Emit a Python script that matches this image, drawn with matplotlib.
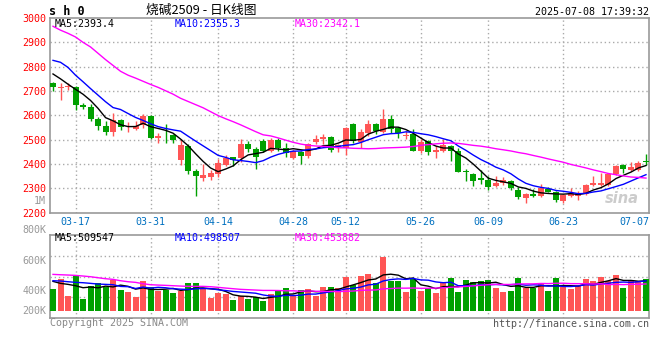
import matplotlib
matplotlib.use('Agg')
import matplotlib.pyplot as plt
from matplotlib.transforms import blended_transform_factory
import pandas as pd

# trading days shown (2025)
dates = ['03-12', '03-13', '03-14', '03-17', '03-18', '03-19', '03-20', '03-21', '03-24', '03-25',
         '03-26', '03-27', '03-28', '03-31', '04-01', '04-02', '04-03', '04-07', '04-08', '04-09',
         '04-10', '04-11', '04-14', '04-15', '04-16', '04-17', '04-18', '04-21', '04-22', '04-23',
         '04-24', '04-25', '04-28', '04-29', '04-30', '05-06', '05-07', '05-08', '05-09', '05-12',
         '05-13', '05-14', '05-15', '05-16', '05-19', '05-20', '05-21', '05-22', '05-23', '05-26',
         '05-27', '05-28', '05-29', '05-30', '06-03', '06-04', '06-05', '06-06', '06-09', '06-10',
         '06-11', '06-12', '06-13', '06-16', '06-17', '06-18', '06-19', '06-20', '06-23', '06-24',
         '06-25', '06-26', '06-27', '06-30', '07-01', '07-02', '07-03', '07-04', '07-07', '07-08']

opens = [2733, 2714, 2716, 2715, 2641, 2634, 2587, 2558, 2531, 2579,
         2548, 2543, 2560, 2597, 2506, 2513, 2519, 2417, 2474, 2370,
         2343, 2347, 2358, 2395, 2427, 2424, 2481, 2463, 2494, 2453,
         2498, 2467, 2424, 2449, 2433, 2490, 2501, 2511, 2468, 2467,
         2566, 2490, 2526, 2566, 2531, 2583, 2549, 2515, 2522, 2455,
         2494, 2450, 2454, 2474, 2454, 2372, 2358, 2342, 2334, 2311,
         2322, 2331, 2293, 2259, 2277, 2270, 2297, 2283, 2249, 2270,
         2267, 2277, 2314, 2314, 2313, 2358, 2395, 2377, 2376, 2413]
highs = [2735, 2734, 2732, 2719, 2651, 2645, 2594, 2578, 2610, 2586,
         2572, 2576, 2607, 2600, 2528, 2566, 2522, 2501, 2481, 2381,
         2399, 2376, 2420, 2436, 2428, 2501, 2494, 2468, 2501, 2508,
         2506, 2487, 2458, 2453, 2485, 2518, 2522, 2515, 2481, 2551,
         2569, 2542, 2580, 2569, 2628, 2603, 2553, 2535, 2542, 2501,
         2498, 2474, 2501, 2478, 2467, 2379, 2362, 2376, 2351, 2349,
         2345, 2336, 2304, 2280, 2297, 2317, 2304, 2290, 2277, 2300,
         2290, 2318, 2352, 2362, 2362, 2395, 2399, 2409, 2413, 2440]
lows = [2698, 2662, 2703, 2624, 2627, 2575, 2539, 2518, 2515, 2539,
        2531, 2540, 2547, 2504, 2485, 2485, 2488, 2395, 2358, 2267,
        2331, 2335, 2345, 2390, 2392, 2409, 2449, 2379, 2449, 2449,
        2453, 2430, 2420, 2399, 2426, 2481, 2482, 2449, 2450, 2436,
        2488, 2467, 2515, 2522, 2528, 2528, 2505, 2501, 2452, 2444,
        2436, 2424, 2449, 2413, 2366, 2331, 2311, 2317, 2294, 2304,
        2313, 2293, 2256, 2239, 2263, 2263, 2283, 2245, 2239, 2263,
        2253, 2273, 2311, 2310, 2311, 2354, 2362, 2372, 2372, 2395]
closes = [2715, 2718, 2722, 2644, 2635, 2587, 2556, 2531, 2579, 2553,
          2550, 2557, 2599, 2508, 2517, 2511, 2498, 2478, 2372, 2352,
          2354, 2362, 2403, 2426, 2417, 2481, 2460, 2430, 2453, 2498,
          2467, 2444, 2453, 2431, 2481, 2501, 2512, 2458, 2477, 2546,
          2494, 2531, 2566, 2535, 2585, 2542, 2529, 2518, 2455, 2490,
          2449, 2457, 2478, 2454, 2368, 2366, 2331, 2336, 2307, 2324,
          2335, 2300, 2263, 2277, 2268, 2300, 2287, 2253, 2273, 2279,
          2281, 2313, 2321, 2320, 2358, 2390, 2380, 2386, 2406, 2407]
# volume in thousands
volumes = [369, 540, 256, 596, 199, 426, 471, 403, 528, 352,
           324, 233, 506, 403, 341, 352, 301, 335, 471, 471,
           364, 222, 301, 284, 182, 256, 199, 233, 170, 284,
           329, 386, 256, 352, 369, 256, 403, 403, 386, 574,
           437, 596, 625, 471, 920, 500, 511, 318, 540, 335,
           386, 301, 488, 557, 318, 523, 488, 506, 523, 386,
           318, 341, 557, 386, 386, 454, 341, 557, 409, 369,
           426, 540, 506, 574, 506, 608, 386, 506, 506, 540]

# moving averages before enough days are in view
ma5_head = [2770, 2750, 2728, 2707]
ma10_head = [2826, 2818, 2797, 2765, 2738, 2710, 2683, 2656, 2632]
ma30_head = [2966, 2950, 2937, 2922, 2900, 2881, 2855, 2829, 2805, 2781,
             2765, 2753, 2740, 2727, 2715, 2701, 2687, 2670, 2657, 2644,
             2631, 2615, 2599, 2586, 2574, 2561, 2547, 2533, 2520]
vol_ma5_head = [500, 466, 449, 426]
vol_ma10_head = [511, 506, 494, 483, 477, 466, 454, 449, 443]
vol_ma30_head = [619, 613, 608, 602, 591, 579, 562, 545, 534, 511,
                 494, 483, 460, 443, 437, 432, 426, 420, 415, 415,
                 415, 409, 398, 386, 375, 364, 358, 352, 346]

tick_dates = ['03-17', '03-31', '04-14', '04-28', '05-12', '05-26', '06-09', '06-23', '07-07']
price_ticks = [2200, 2300, 2400, 2500, 2600, 2700, 2800, 2900, 3000]
ma_labels = ['MA5:2393.4', 'MA10:2355.3', 'MA30:2342.1']
vol_ma_labels = ['MA5:509547', 'MA10:498507', 'MA30:453882']
vol_axis_labels = ['800K', '600K', '400K', '200K']

UP = '#FF5555'
DOWN = '#00A000'
GRID = '#AAAAAA'
MONO = 'DejaVu Sans Mono'
FS = 7.2


def moving_avg(values, n, head):
    s = pd.Series(values, dtype=float).rolling(n).mean()
    s.iloc[:len(head)] = head
    return s.values


x = list(range(len(dates)))
colors = [UP if c >= o else DOWN for o, c in zip(opens, closes)]
ma_colors = ['black', '#0000FF', '#FF00FF']

fig = plt.figure(figsize=(6.6, 3.6), dpi=100)
W, H = 660.0, 360.0
ax = fig.add_axes([50 / W, (H - 212.7) / H, 599 / W, 194.7 / H])
ax2 = fig.add_axes([50 / W, 42 / H, 599 / W, 83 / H])

xlo, xhi = -0.4, 79.4

# ---- price panel ----
ax.vlines(x, lows, highs, colors=colors, linewidth=1, zorder=3)
bottoms = [min(o, c) for o, c in zip(opens, closes)]
heights = [max(abs(c - o), 2) for o, c in zip(opens, closes)]
ax.bar(x, heights, bottom=bottoms, width=0.8, color=colors, linewidth=0, zorder=4)

for n, head, col in zip([5, 10, 30], [ma5_head, ma10_head, ma30_head], ma_colors):
    ax.plot(x, moving_avg(closes, n, head), color=col, linewidth=1, zorder=5)

ax.set_xlim(xlo, xhi)
ax.set_ylim(2200, 3000)
ax.set_yticks(price_ticks)
ax.set_yticklabels([str(p) for p in price_ticks], color='#FF0000', fontfamily=MONO, fontsize=FS)
ax.set_xticks([])
ax.tick_params(axis='y', length=0, pad=2.5)
for p in price_ticks[1:-1]:
    ax.axhline(p, color=GRID, linestyle=(0, (1, 2)), linewidth=1, zorder=1)

trans = blended_transform_factory(ax.transData, ax.transAxes)
for d in tick_dates:
    i = dates.index(d)
    if i + 2 < xhi:
        ax.axvline(i, color=GRID, linestyle=(0, (1, 2)), linewidth=1, zorder=1)
        ax2.axvline(i, color=GRID, linestyle=(0, (1, 2)), linewidth=1, zorder=1)
        ax.text(i, -0.046, d, transform=trans, ha='center', va='center',
                color='#0070C0', fontfamily=MONO, fontsize=FS)
    else:
        ax.text(xhi, -0.046, d, transform=trans, ha='right', va='center',
                color='#0070C0', fontfamily=MONO, fontsize=FS)

ax.text(-0.007, 0.062, '1M', transform=ax.transAxes, ha='right', va='center',
        color='#999999', fontfamily=MONO, fontsize=FS)

for lab, col, px in zip(ma_labels, ma_colors, [55, 175, 295]):
    ax.text((px - 50) / 599, 0.969, lab, transform=ax.transAxes, ha='left', va='center',
            color=col, fontfamily=MONO, fontsize=FS, zorder=6)

ax.text(0.955, 0.075, 'sina', transform=ax.transAxes, ha='center', va='center',
        color='#CCCCCC', fontsize=10.5, fontstyle='italic', fontweight='bold', zorder=2)

# ---- volume panel ----
vlo, vhi = -124, 1290
ax2.bar(x, volumes, width=0.8, color=colors, linewidth=0, zorder=3)
for n, head, col in zip([5, 10, 30], [vol_ma5_head, vol_ma10_head, vol_ma30_head], ma_colors):
    ax2.plot(x, moving_avg(volumes, n, head), color=col, linewidth=1, zorder=4)
ax2.set_xlim(xlo, xhi)
ax2.set_ylim(vlo, vhi)
ax2.set_xticks([])
ax2.set_yticks([])
for f in (0.25, 0.5, 0.75):
    ax2.axhline(vlo + f * (vhi - vlo), color=GRID, linestyle=(0, (1, 2)), linewidth=1, zorder=1)

for lab, fy in zip(vol_axis_labels, [1.06, 0.687, 0.325, 0.084]):
    ax2.text(-0.006, fy, lab, transform=ax2.transAxes, ha='right', va='center',
             color='#999999', fontfamily=MONO, fontsize=FS)

for lab, col, px in zip(vol_ma_labels, ma_colors, [55, 175, 295]):
    ax2.text((px - 50) / 599, 0.967, lab, transform=ax2.transAxes, ha='left', va='center',
             color=col, fontfamily=MONO, fontsize=FS, zorder=6)

for a in (ax, ax2):
    for s in a.spines.values():
        s.set_color('#999999')
        s.set_linewidth(1.2)

# ---- header / footer ----
fig.text(49 / W, 1 - 11.5 / H, 's h 0', ha='left', va='center', fontfamily=MONO,
         fontweight='bold', fontsize=8.5, color='black')
fig.text(201 / W, 1 - 10.5 / H, '烧碱2509 - 日K线图', ha='center', va='center',
         family=['Noto Sans CJK SC', 'DejaVu Sans'], fontsize=9.2, color='black')
fig.text(649 / W, 1 - 12.3 / H, '2025-07-08 17:39:32', ha='right', va='center',
         fontfamily=MONO, fontsize=FS, color='black')
fig.text(50 / W, 1 - 323.3 / H, 'Copyright 2025 SINA.COM', ha='left', va='center',
         fontfamily=MONO, fontsize=FS, color='#888888')
fig.text(649 / W, 1 - 324 / H, 'http://finance.sina.com.cn', ha='right', va='center',
         fontfamily=MONO, fontsize=FS, color='#555555')

fig.savefig('out.png', dpi=100)
